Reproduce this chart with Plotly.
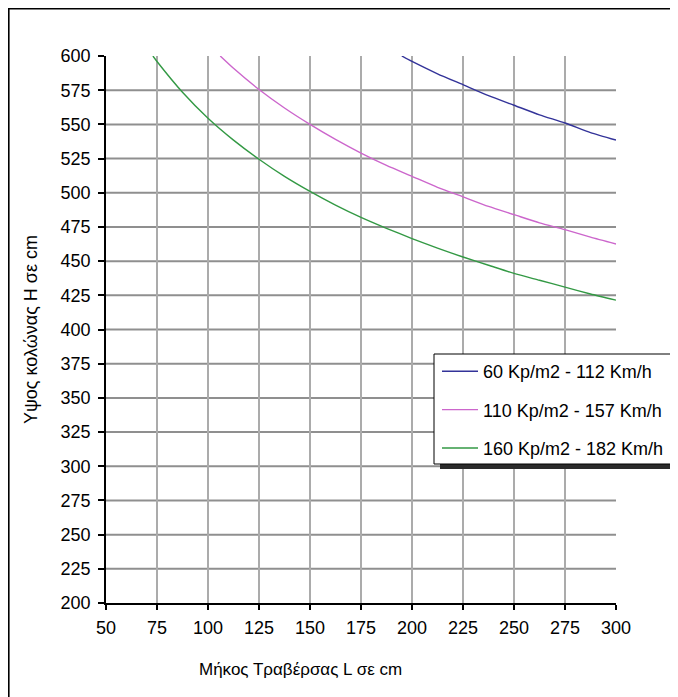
import plotly.graph_objects as go

# ---- data ----
series_names = ["60 Kp/m2 - 112 Km/h", "110 Kp/m2 - 157 Km/h", "160 Kp/m2 - 182 Km/h"]

L_60 = [195, 200, 212.5, 225, 237.5, 250, 262.5, 275, 287.5, 300]
H_60 = [600, 596, 587, 579, 571, 564, 557, 551, 544, 538.5]

L_110 = [106, 112.5, 125, 137.5, 150, 162.5, 175, 187.5, 200, 212.5, 225, 237.5, 250, 262.5, 275, 287.5, 300]
H_110 = [600, 591, 575.5, 562, 550, 539, 529, 520, 512, 504, 497, 490, 484, 478, 473, 467.5, 462.5]

L_160 = [73, 75, 87.5, 100, 112.5, 125, 137.5, 150, 162.5, 175, 187.5, 200, 212.5, 225, 237.5, 250, 262.5, 275, 287.5, 300]
H_160 = [600, 596, 573.5, 554.5, 538.5, 524.5, 512, 501, 491, 482, 474, 466.5, 459.5, 453, 447, 441, 436, 431, 426, 421.5]

x_ticks = [50, 75, 100, 125, 150, 175, 200, 225, 250, 275, 300]
y_ticks = [200, 225, 250, 275, 300, 325, 350, 375, 400, 425, 450, 475, 500, 525, 550, 575, 600]

x_title = "Μήκος Τραβέρσας L σε cm"
y_title = "Υψος κολώνας Η σε cm"

colors = ["#333399", "#cc66cc", "#339944"]

# ---- layout geometry ----
# The page body has an 8px margin, so the figure sits 8px right/down of the window corner.
OFF = 8
W, H = 678 - OFF, 697 - OFF
# plot area in page pixels
PL, PR, PT, PB = 106 - OFF, 616 - OFF, 56 - OFF, 603 - OFF


def px(xp):
    """page x pixel -> paper x"""
    return (xp - OFF - PL) / (PR - PL)


def py(yp):
    """page y pixel -> paper y"""
    return (PB - (yp - OFF)) / (PB - PT)


FONT = "Liberation Sans, Arial, sans-serif"

fig = go.Figure()
for name, xs, ys, c in zip(series_names, [L_60, L_110, L_160], [H_60, H_110, H_160], colors):
    fig.add_trace(go.Scatter(x=xs, y=ys, mode="lines", name=name,
                             line=dict(color=c, width=1.4, shape="spline", smoothing=0.6),
                             legendgroup=name))

shapes = []
# gridlines (no line at the top and right borders)
for yv in y_ticks[1:-1]:
    shapes.append(dict(type="line", xref="x", yref="y", x0=x_ticks[0], x1=x_ticks[-1], y0=yv, y1=yv,
                       line=dict(color="#8f8f8f", width=2), layer="below"))
for xv in x_ticks[1:-1]:
    shapes.append(dict(type="line", xref="x", yref="y", x0=xv, x1=xv, y0=y_ticks[0], y1=y_ticks[-1],
                       line=dict(color="#ababab", width=2), layer="below"))
# outer chart frame (only top and left visible)
shapes.append(dict(type="rect", xref="paper", yref="paper", x0=px(8.8), x1=px(720), y0=py(740), y1=py(8.8),
                   line=dict(color="black", width=1.6), fillcolor="rgba(0,0,0,0)", layer="below"))
# legend shadow and box
shapes.append(dict(type="rect", xref="paper", yref="paper", x0=px(440), x1=px(677), y0=py(469), y1=py(460),
                   line=dict(width=0), fillcolor="#2a2a2a", layer="above"))
shapes.append(dict(type="rect", xref="paper", yref="paper", x0=px(434), x1=px(677), y0=py(464), y1=py(354),
                   line=dict(color="black", width=1), fillcolor="white", layer="above"))

fig.update_layout(
    width=W, height=H,
    margin=dict(l=PL, r=W - PR, t=PT, b=H - PB, pad=0, autoexpand=False),
    paper_bgcolor="white", plot_bgcolor="white",
    font=dict(family=FONT, size=15, color="black"),
    shapes=shapes,
    showlegend=True,
    legend=dict(x=px(669), y=py(353), xanchor="right", yanchor="top",
                bgcolor="rgba(0,0,0,0)", borderwidth=0,
                font=dict(family=FONT, size=18, color="black"),
                tracegroupgap=12, itemwidth=36),
    xaxis=dict(range=[x_ticks[0], x_ticks[-1]], tickvals=x_ticks, showgrid=False, zeroline=False,
               showline=True, linecolor="black", linewidth=1.5, ticks="outside", ticklen=5,
               tickcolor="black", tickwidth=1.5, tickfont=dict(size=18), ticklabelstandoff=3,
               automargin=False),
    yaxis=dict(range=[y_ticks[0], y_ticks[-1]], tickvals=y_ticks, showgrid=False, zeroline=False,
               showline=True, linecolor="black", linewidth=1.5, ticks="outside", ticklen=6,
               tickcolor="black", tickwidth=1.5, tickfont=dict(size=18), ticklabelstandoff=4,
               automargin=False),
    annotations=[
        dict(text=x_title, xref="paper", yref="paper", x=px(300), y=py(669), showarrow=False,
             xanchor="center", yanchor="middle", font=dict(size=17)),
        dict(text=y_title, xref="paper", yref="paper", x=px(31), y=py(330), showarrow=False,
             textangle=-90, xanchor="center", yanchor="middle", font=dict(size=18)),
    ],
)

fig.write_html("out.html")
